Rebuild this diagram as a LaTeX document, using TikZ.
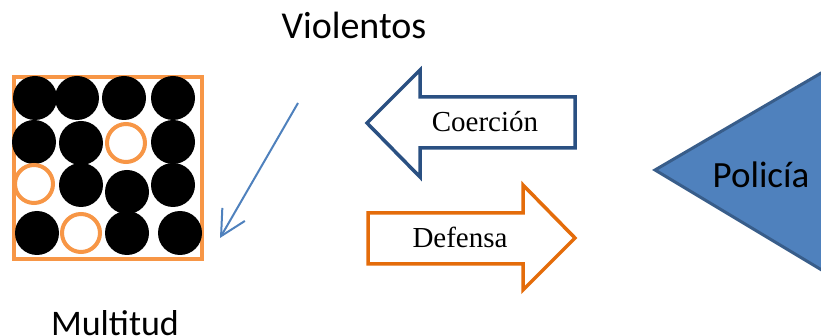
\documentclass[tikz,border=0pt]{standalone}
\usepackage{fontspec}
\setmainfont{Carlito}
\newfontfamily\timesfont{Liberation Serif}
\usetikzlibrary{positioning, calc, arrows.meta}
\definecolor{ofcblue}{HTML}{4F81BD}
\definecolor{ofcdark}{HTML}{385D8A}
\definecolor{navyline}{HTML}{2A5082}
\definecolor{ofcorange}{HTML}{F79646}
\definecolor{deeporange}{HTML}{E46C0A}
\tikzset{%
	pers/.style={circle, fill=black, minimum size=44pt, inner sep=0pt},
	calm/.style={circle, draw=ofcorange, line width=4pt, fill=white,%
		minimum size=38pt, inner sep=0pt},
	crowdbox/.style={draw=ofcorange, line width=4pt, rectangle,%
		minimum width=188pt, minimum height=182pt, inner sep=0pt},
	label/.style={font=\fontsize{36}{40}\selectfont},
	push/.style={line width=3.5pt, fill=white, line join=miter},
	pushtext/.style={font=\timesfont\fontsize{29}{32}\selectfont},
	strike/.style={draw=ofcblue, line width=2pt,%
		-{Straight Barb[length=25pt, width=26pt]}}
}

\begin{document}
\begin{tikzpicture}[x=1pt, y=-1pt]
	\useasboundingbox (0,0) rectangle (821,336);
	\clip (0,0) rectangle (821,336);

	% crowd
	\node[crowdbox] (crowd) at (108,168) {};
	\node[pers] (p11) at (35,98) {};
	\node[pers] (p12) at (77,98) {};
	\node[pers] (p13) at (124,98) {};
	\node[pers] (p14) at (173,98) {};
	\node[pers] (p21) at (34,142) {};
	\node[pers] (p22) at (81,143) {};
	\node[calm] (p23) at (126,143) {};
	\node[pers] (p24) at (173,142) {};
	\node[calm] (p31) at (34,184) {};
	\node[pers] (p32) at (81,185) {};
	\node[pers] (p33) at (127,192) {};
	\node[pers] (p34) at (173,185) {};
	\node[pers] (p41) at (37,233) {};
	\node[calm] (p42) at (81,233) {};
	\node[pers] (p43) at (127,233) {};
	\node[pers] (p44) at (180,233) {};

	\node[label, font=\fontsize{38}{42}\selectfont] (viol) at (354,25) {Violentos};
	\node[label] (mult) at (115,323) {Multitud};

	\coordinate (vfrom) at (298,103);
	\coordinate (vto) at (220,238);
	\draw[strike] (vfrom) to (vto);

	% coercion and defence
	\draw[push, draw=navyline] (367,123) -- (420,70) -- (420,97) -- (575,97)
		-- (575,148) -- (420,148) -- (420,177) -- cycle;
	\draw[push, draw=deeporange] (368,213) -- (523,213) -- (523,185) -- (575,238)
		-- (523,290) -- (523,264) -- (368,264) -- cycle;
	\node[pushtext] (coer) at (485,122) {Coerción};
	\node[pushtext] (def) at (460,237) {Defensa};

	% police
	\draw[fill=ofcblue, draw=ofcdark, line width=3pt] (655,170) -- (840,62)
		-- (840,281) -- cycle;
	\node[font=\fontsize{37}{40}\selectfont] (pol) at (761,175) {Policía};
\end{tikzpicture}
\end{document}
